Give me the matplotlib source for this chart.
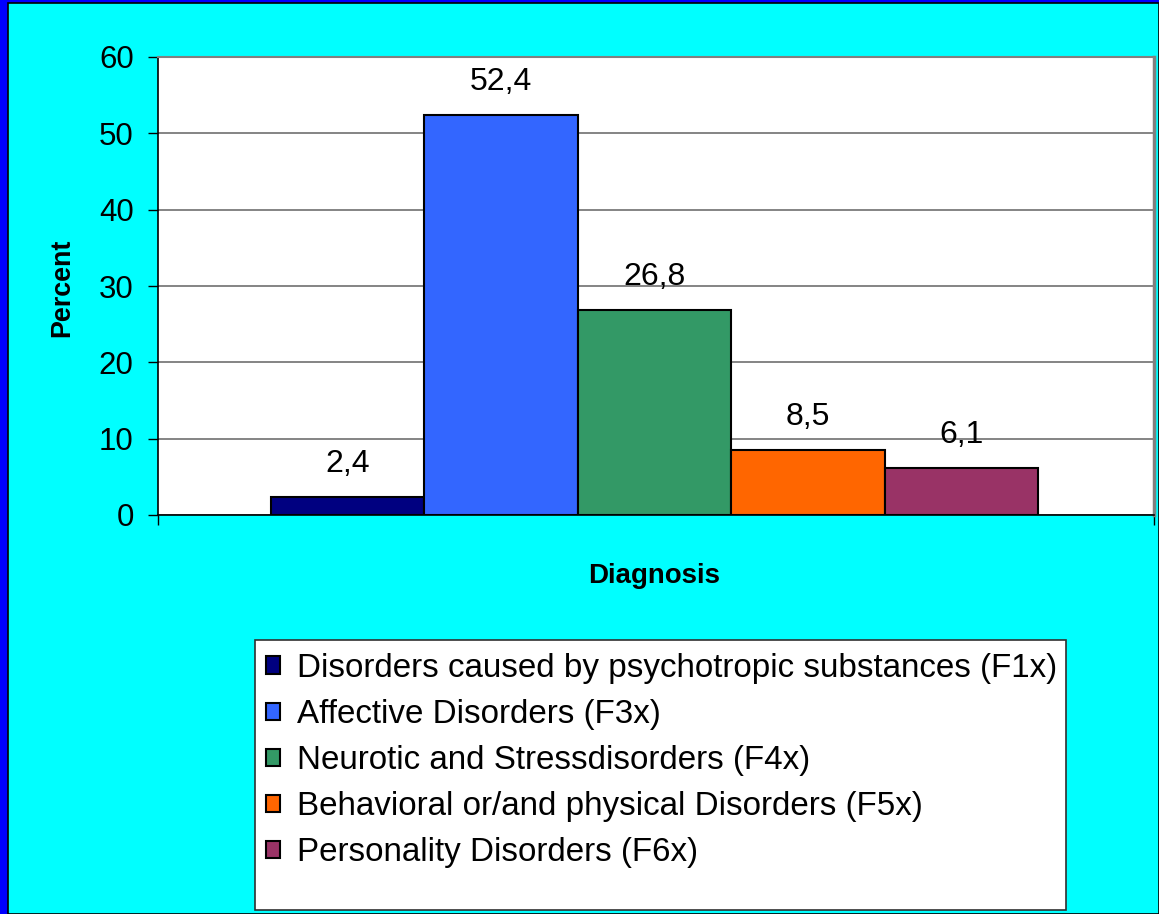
import matplotlib
matplotlib.use("Agg")
import matplotlib.pyplot as plt
from matplotlib.patches import Patch, Rectangle

categories = ["Disorders caused by psychotropic substances (F1x)",
              "Affective Disorders (F3x)",
              "Neurotic and Stressdisorders (F4x)",
              "Behavioral or/and physical Disorders (F5x)",
              "Personality Disorders (F6x)"]
values = [2.4, 52.4, 26.8, 8.5, 6.1]
value_labels = ["2,4", "52,4", "26,8", "8,5", "6,1"]
colors = ["#000080", "#3366FF", "#339966", "#FF6600", "#993366"]
yticks = [0, 10, 20, 30, 40, 50, 60]

plt.rcParams['font.family'] = ['Liberation Sans', 'DejaVu Sans']

W, H = 1159, 914
fig = plt.figure(figsize=(W / 100, H / 100), dpi=100)
fig.patch.set_facecolor("#0000FF")

# cyan panel
fig.patches.append(Rectangle((8 / W, 0), (W - 8) / W, (H - 3) / H, transform=fig.transFigure,
                             facecolor="#00FFFF", edgecolor="black", linewidth=1.2, zorder=-5))

ax = fig.add_axes([158 / W, 1 - 515 / H, (1154 - 158) / W, (515 - 57) / H])
ax.set_zorder(3)
ax.set_facecolor("white")

x = list(range(len(values)))
ax.bar(x, values, width=1.0, color=colors, edgecolor="black", linewidth=1.5, zorder=3)
for xi, v, lab in zip(x, values, value_labels):
    ax.annotate(lab, (xi, v), xytext=(0, 18), textcoords="offset points",
                ha="center", va="baseline", fontsize=23, zorder=4)

gap_l, gap_r = 113 / 153.3, 116 / 153.3
ax.set_xlim(-0.5 - gap_l, len(values) - 0.5 + gap_r)
ax.set_ylim(0, 60)
ax.set_yticks(yticks)
ax.set_yticklabels([str(t) for t in yticks], fontsize=22.5)
ax.yaxis.grid(True, color="#707070", linewidth=1.2, zorder=0)
ax.set_axisbelow(True)
ax.tick_params(axis="y", direction="out", length=7, width=1, color="black", pad=10.5)
ax.set_xticks([ax.get_xlim()[0], ax.get_xlim()[1]])
ax.set_xticklabels(["", ""])
ax.tick_params(axis="x", direction="out", length=7, width=1, color="black")

for s in ["left", "bottom"]:
    ax.spines[s].set_color("black")
    ax.spines[s].set_linewidth(1.2)
ax.spines["top"].set_color("#808080")
ax.spines["top"].set_linewidth(1.5)
ax.spines["right"].set_color("#808080")
ax.spines["right"].set_linewidth(2.5)

fig.text(62 / W, 1 - 288 / H, "Percent", rotation=90, ha="center", va="center",
         fontsize=19.4, fontweight="bold", zorder=4)
fig.text(654 / W, 1 - 576 / H, "Diagnosis", ha="center", va="center",
         fontsize=19.9, fontweight="bold", zorder=4)

# legend frame
fig.patches.append(Rectangle((255 / W, 1 - 910 / H), (1066 - 255) / W, (910 - 640) / H,
                             transform=fig.transFigure, facecolor="white",
                             edgecolor="#303030", linewidth=1.2, zorder=1))
handles = [Patch(facecolor=c, edgecolor="black", linewidth=1.5) for c in colors]
leg = fig.legend(handles, categories, loc="upper left",
                 bbox_to_anchor=(266 / W, 1 - 653 / H), bbox_transform=fig.transFigure,
                 frameon=False, fontsize=23.9, borderpad=0, borderaxespad=0,
                 handlelength=0.43, handleheight=0.43, handletextpad=0.5,
                 labelspacing=0.455)
leg.set_zorder(5)

fig.savefig("out.png", dpi=100, facecolor=fig.get_facecolor())
